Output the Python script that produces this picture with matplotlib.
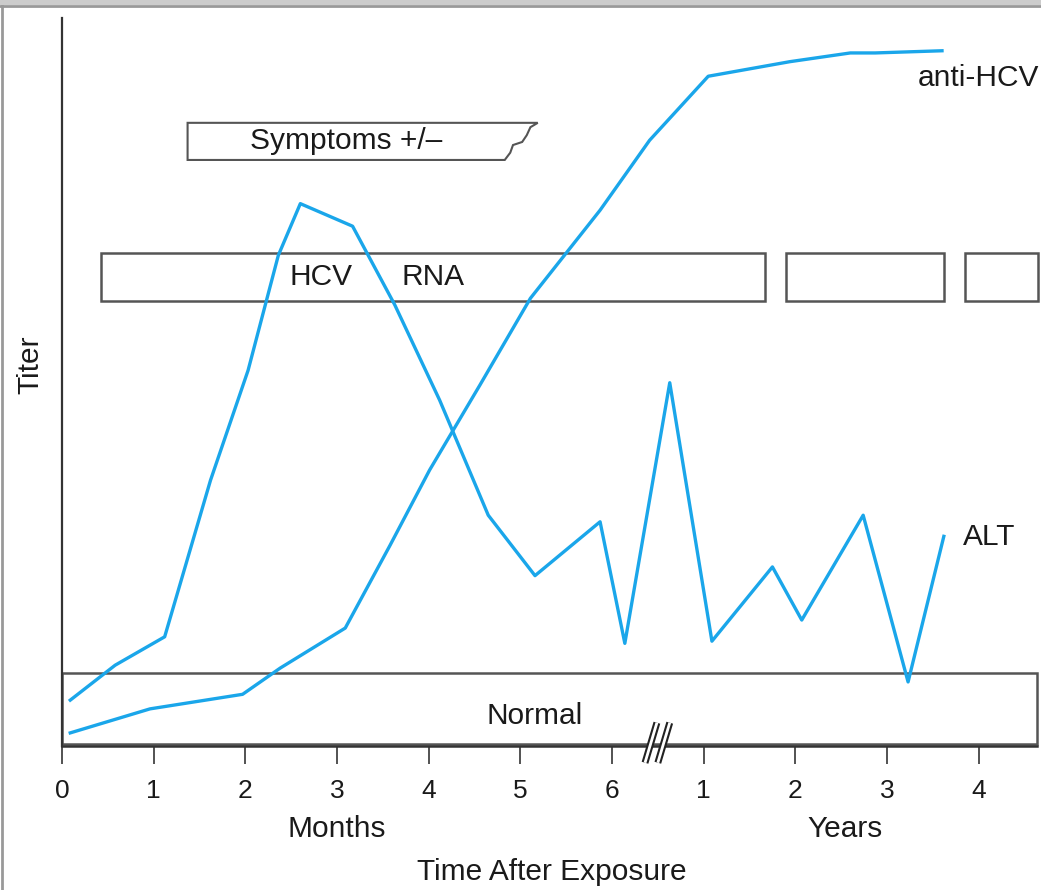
import matplotlib.pyplot as plt
from matplotlib.patches import Rectangle, Polygon
from matplotlib.lines import Line2D

plt.rcParams['font.family'] = ['Liberation Sans', 'DejaVu Sans']

# time axis: 0-6 months, then years 1-4 placed at 7-10
alt_t = [0.09, 0.58, 1.12, 1.62, 2.03, 2.36, 2.60, 3.17, 3.63, 4.12, 4.65,
         5.16, 5.87, 6.14, 6.63, 7.09, 7.75, 8.07, 8.74, 9.23, 9.62]
alt_v = [6.3, 11.1, 15.0, 36.5, 51.6, 67.4, 74.5, 71.4, 60.6, 47.5, 31.7,
         23.4, 30.8, 14.1, 49.9, 14.4, 24.6, 17.3, 31.7, 8.8, 28.8]

ahcv_t = [0.09, 0.96, 1.97, 2.38, 3.09, 3.58, 4.01, 4.56, 5.11, 5.87, 6.41,
          7.05, 7.94, 8.60, 8.87, 9.60]
ahcv_v = [1.8, 5.1, 7.1, 10.7, 16.2, 27.6, 37.9, 49.6, 61.5, 73.6, 83.2,
          92.0, 94.0, 95.2, 95.2, 95.5]

tick_pos = [0, 1, 2, 3, 4, 5, 6, 7, 8, 9, 10]
tick_lab = ['0', '1', '2', '3', '4', '5', '6', '1', '2', '3', '4']

rna_spans = [(0.43, 7.67), (7.90, 9.62), (9.85, 10.65)]
normal_span = (0.0, 10.64)

blue = '#1aa6ea'
edge = '#555555'

fig = plt.figure(figsize=(10.41, 8.9), dpi=100)
ax = fig.add_axes([62 / 1041, 144 / 890, 1 - 62 / 1041, 728 / 890])
ax.set_xlim(0, 10.68)
ax.set_ylim(0, 100)

for s in ['top', 'right', 'bottom']:
    ax.spines[s].set_visible(False)
ax.spines['left'].set_color('#333333')
ax.spines['left'].set_linewidth(1.6)
# bottom axis line ends with the Normal box
ax.plot([0, normal_span[1]], [0, 0], color='#333333', lw=1.8, clip_on=False, zorder=3)

ax.set_yticks([])
ax.set_xticks(tick_pos)
ax.set_xticklabels(tick_lab, fontsize=19, color='#1a1a1a')
ax.tick_params(axis='x', length=13, width=1.3, color='#444444', pad=11)

# boxes
ax.add_patch(Rectangle((normal_span[0], 0.3), normal_span[1] - normal_span[0], 9.7,
                       fc='white', ec=edge, lw=1.8, zorder=2))
for a, b in rna_spans:
    ax.add_patch(Rectangle((a, 61.1), b - a, 6.6, fc='white', ec=edge, lw=1.8, zorder=2))

sym = [(1.37, 80.5), (1.37, 85.6), (5.19, 85.6), (5.11, 85.0), (5.07, 83.9),
       (5.02, 82.97), (4.92, 82.55), (4.89, 81.5), (4.83, 80.5)]
ax.add_patch(Polygon(sym, closed=True, fc='white', ec=edge, lw=1.5, zorder=2))

# curves
ax.plot(alt_t, alt_v, color=blue, lw=2.4, zorder=4)
ax.plot(ahcv_t, ahcv_v, color=blue, lw=2.4, zorder=4)

# axis break marks
for x0 in [6.36, 6.50]:
    ax.plot([x0, x0 + 0.13], [-2.3, 3.2], color='#222222', lw=5, clip_on=False,
            zorder=5, solid_capstyle='butt')
    ax.plot([x0, x0 + 0.13], [-2.3, 3.2], color='white', lw=2, clip_on=False,
            zorder=6, solid_capstyle='butt')

# texts
fs = 21.5
tc = '#1a1a1a'
ax.text(3.1, 83.05, 'Symptoms +/\u2013', fontsize=fs, color=tc, ha='center', va='center', zorder=3)
ax.text(2.82, 64.4, 'HCV', fontsize=fs, color=tc, ha='center', va='center', zorder=3)
ax.text(4.05, 64.4, 'RNA', fontsize=fs, color=tc, ha='center', va='center', zorder=3)
ax.text(5.16, 4.1, 'Normal', fontsize=fs, color=tc, ha='center', va='center', zorder=3)
ax.text(9.34, 91.7, 'anti-HCV', fontsize=fs, color=tc, ha='left', va='center')
ax.text(9.83, 28.7, 'ALT', fontsize=fs, color=tc, ha='left', va='center')

fig.text(30 / 1041, 1 - 365 / 890, 'Titer', fontsize=fs, color=tc, rotation=90,
         ha='center', va='center')
fig.text(337 / 1041, 1 - 829 / 890, 'Months', fontsize=fs, color=tc, ha='center', va='center')
fig.text(845 / 1041, 1 - 829 / 890, 'Years', fontsize=fs, color=tc, ha='center', va='center')
fig.text(552 / 1041, 1 - 872 / 890, 'Time After Exposure', fontsize=fs, color=tc,
         ha='center', va='center')

# outer frame
fig.add_artist(Rectangle((0, 1 - 5 / 890), 1, 5 / 890, transform=fig.transFigure,
                         fc='#cccccc', ec='none'))
fig.add_artist(Line2D([0, 1], [1 - 6 / 890, 1 - 6 / 890], transform=fig.transFigure,
                      color='#999999', lw=2))
fig.add_artist(Line2D([1.5 / 1041, 1.5 / 1041], [0, 1 - 6 / 890], transform=fig.transFigure,
                      color='#999999', lw=2))

fig.savefig('out.png', dpi=100)
